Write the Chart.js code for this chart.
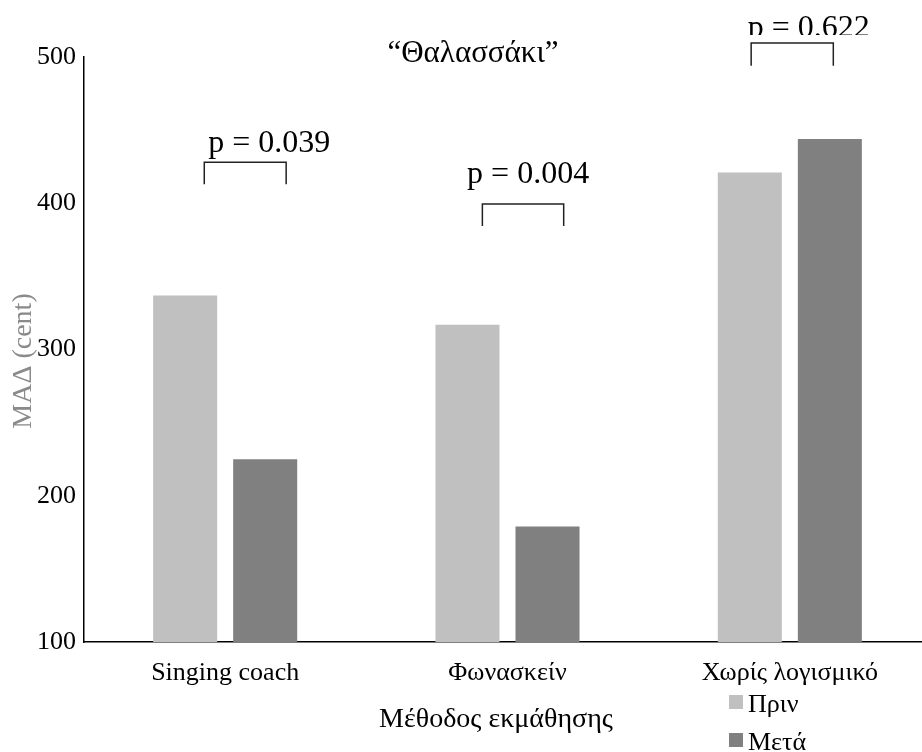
<!DOCTYPE html>
<html>
<head>
<meta charset="utf-8">
<script src="https://cdn.jsdelivr.net/npm/chart.js@4.4.1/dist/chart.umd.min.js"></script>
<style>
  html, body { margin: 0; padding: 0; background: #fff; overflow: hidden; }
  #wrap { width: 936px; height: 752px; }
</style>
</head>
<body>
<div id="wrap"><canvas id="c" width="936" height="752"></canvas></div>
<script>
// Learning methods and mean absolute deviation (cent), before / after
const categories = ['Singing coach', 'Φωνασκείν', 'Χωρίς λογισμικό'];
const seriesNames = ['Πριν', 'Μετά'];
const beforeValues = [337, 317, 421];
const afterValues = [225, 179, 444];
const pValues = ['0.039', '0.004', '0.622'];
const yTicks = [100, 200, 300, 400, 500];

const SERIF = '"Liberation Serif", "DejaVu Serif", serif';

// significance brackets: x as offsets (in category widths) from each group centre,
// y in axis units
const brackets = [
  { x0: -0.074, x1: 0.216, top: 428, foot: 413, tx: 0.156, ty: 435 },
  { x0: -0.089, x1: 0.199, top: 399.5, foot: 384.5, tx: 0.073, ty: 414 },
  { x0: -0.137, x1: 0.154, top: 509.5, foot: 494, tx: 0.067, ty: 514, clipBottom: 35 }
];

const overlay = {
  id: 'overlay',
  afterDraw(chart) {
    const { ctx, scales: { x, y }, chartArea } = chart;
    const catW = (chartArea.right - chartArea.left) / categories.length;
    ctx.save();

    // chart title
    ctx.fillStyle = '#000';
    ctx.font = '31px ' + SERIF;
    ctx.textAlign = 'center';
    ctx.textBaseline = 'alphabetic';
    ctx.fillText('\u201CΘαλασσάκι\u201D', 473, 62);

    // brackets and p-values
    ctx.strokeStyle = '#222';
    ctx.lineWidth = 1.5;
    brackets.forEach((b, i) => {
      const cx = x.getPixelForValue(i);
      const l = cx + b.x0 * catW, r = cx + b.x1 * catW;
      const t = y.getPixelForValue(b.top), f = y.getPixelForValue(b.foot);
      ctx.beginPath();
      ctx.moveTo(l, f);
      ctx.lineTo(l, t);
      ctx.lineTo(r, t);
      ctx.lineTo(r, f);
      ctx.stroke();

      ctx.save();
      if (b.clipBottom) {
        ctx.beginPath();
        ctx.rect(0, 0, chart.width, b.clipBottom);
        ctx.clip();
      }
      ctx.fillStyle = '#000';
      ctx.font = '32px ' + SERIF;
      ctx.textAlign = 'center';
      ctx.textBaseline = 'alphabetic';
      ctx.fillText('p = ' + pValues[i], cx + b.tx * catW, y.getPixelForValue(b.ty));
      ctx.restore();
    });

    // axis titles
    ctx.fillStyle = '#000';
    ctx.font = '28px ' + SERIF;
    ctx.textAlign = 'center';
    ctx.fillText('Μέθοδος εκμάθησης', 496, 727);

    ctx.save();
    ctx.translate(31, 361);
    ctx.rotate(-Math.PI / 2);
    ctx.fillStyle = '#8a8a8a';
    ctx.font = '28px ' + SERIF;
    ctx.textAlign = 'center';
    ctx.textBaseline = 'alphabetic';
    ctx.fillText('ΜΑΔ (cent)', 0, 0);
    ctx.restore();

    // legend
    ctx.font = '26px ' + SERIF;
    ctx.textAlign = 'left';
    chart.data.datasets.forEach((ds, i) => {
      const top = 695 + i * 38;
      ctx.fillStyle = ds.backgroundColor;
      ctx.fillRect(729, top, 14, 14);
      ctx.fillStyle = '#000';
      ctx.fillText(ds.label, 748, top + 17);
    });

    ctx.restore();
  }
};

new Chart(document.getElementById('c'), {
  type: 'bar',
  data: {
    labels: categories,
    datasets: [
      { label: seriesNames[0], data: beforeValues, backgroundColor: '#c0c0c0' },
      { label: seriesNames[1], data: afterValues, backgroundColor: '#808080' }
    ]
  },
  options: {
    responsive: false,
    animation: false,
    devicePixelRatio: 1,
    layout: { padding: { top: 57, right: 5, left: 0, bottom: 0 } },
    categoryPercentage: 0.567,
    barPercentage: 0.8,
    plugins: {
      legend: { display: false },
      title: { display: false },
      tooltip: { enabled: false }
    },
    scales: {
      x: {
        grid: { display: false, drawTicks: false },
        border: { display: true, color: '#000', width: 1.5 },
        ticks: {
          color: '#000',
          font: { family: SERIF, size: 26 },
          padding: 16,
          maxRotation: 0
        },
        afterFit(scale) { scale.height = 110; }
      },
      y: {
        min: 100,
        max: 500,
        afterBuildTicks(scale) { scale.ticks = yTicks.map(v => ({ value: v })); },
        grid: { display: false, drawTicks: false },
        border: { display: true, color: '#000', width: 1.5 },
        ticks: {
          color: '#000',
          font: { family: SERIF, size: 26 },
          padding: 8
        },
        afterFit(scale) { scale.width = 84; }
      }
    }
  },
  plugins: [overlay]
});
</script>
</body>
</html>
